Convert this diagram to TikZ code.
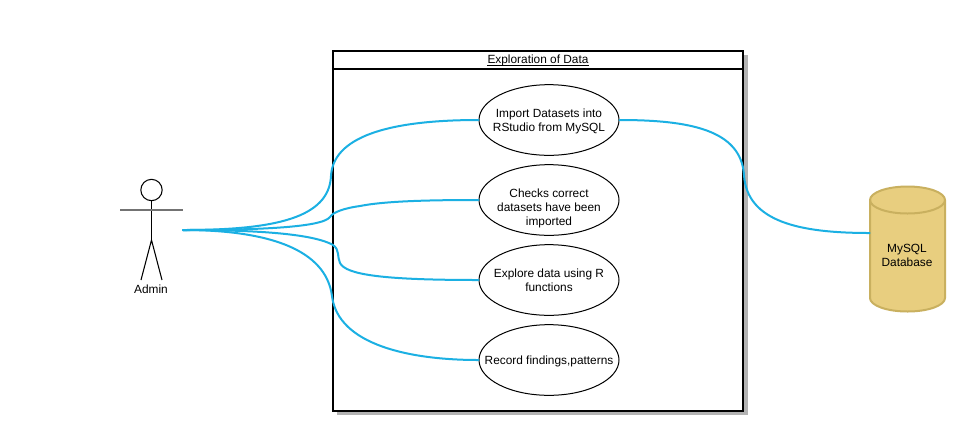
\documentclass[tikz,border=0pt]{standalone}
\usepackage{fontspec}
\setmainfont{Liberation Sans}
\usetikzlibrary{shapes.geometric,calc}
\definecolor{edgeblue}{HTML}{1BB0E3}
\definecolor{dbfill}{HTML}{E8CE7F}
\definecolor{dbline}{HTML}{C9B05F}
\definecolor{shadowgray}{HTML}{B3B3B3}
\newcommand{\ctext}[2]{\makebox[0pt][c]{\raisebox{#1}[0pt][0pt]{\begin{tabular}{@{}c@{}}#2\end{tabular}}}}
\tikzset{
  px/.style={x=0.75pt,y=-0.75pt},
  txt/.style={font=\fontsize{8.9pt}{10.5pt}\selectfont,align=center},
  usecase/.style={ellipse,draw=black,fill=white,line width=0.75pt,minimum width=105pt,minimum height=53pt,inner sep=0pt,font=\fontsize{8.9pt}{10.5pt}\selectfont},
  lane/.style={draw=black,line width=1.6pt,fill=white},
  flow/.style={draw=edgeblue,line width=1.5pt,line cap=round},
  stick/.style={draw=black,line width=0.8pt},
  dbshape/.style={draw=dbline,fill=dbfill,line width=1.5pt},
  dbase/.style={minimum width=56.25pt,minimum height=93pt,inner sep=0pt,txt}
}
\begin{document}
\begin{tikzpicture}[px]
\useasboundingbox[fill=white] (0,0) rectangle (965,430);
% shadow
\fill[shadowgray] (337,55) rectangle (748,415);
\draw[shadowgray,line width=0.6pt] (743,73) -- (748,73);
% swimlane
\node[lane,minimum width=307.5pt,minimum height=270pt,inner sep=0pt] (lane) at (538,231) {};
\draw[black,line width=1.6pt] (lane.north west |- 0,69) -- (lane.north east |- 0,69);
\node[txt,inner sep=0pt] (title) at (538,60) {Exploration of Data};
\draw[black,line width=0.5pt] ($(title.west)+(0,5.5)$) -- ($(title.east)+(0,5.5)$);
% use cases
\node[usecase] (u1) at (549,120) {\ctext{-3.75pt}{Import Datasets into\\RStudio from MySQL}};
\node[usecase] (u2) at (549,200) {\ctext{-9pt}{Checks correct\\datasets have been\\imported}};
\node[usecase] (u3) at (549,280) {\ctext{-3.75pt}{Explore data using R\\functions}};
\node[usecase] (u4) at (549,360) {\ctext{-3.75pt}{Record findings,patterns}};
% database
\draw[dbshape] (870,200) arc[start angle=180,end angle=360,x radius=37.5,y radius=13.5]
  -- (945,298) arc[start angle=0,end angle=180,x radius=37.5,y radius=13.5] -- cycle;
\draw[dbshape,fill=none] (870,200) arc[start angle=180,end angle=0,x radius=37.5,y radius=13.5];
\node[dbase] (db) at (907.5,249) {};
\node[txt] (dblabel) at (907,255.5) {MySQL\\ Database};
% actor
\node[circle,draw=black,line width=0.8pt,minimum size=16pt,inner sep=0pt] (head) at (151.5,190) {};
\coordinate (hip) at (151.5,240);
\coordinate (hand) at (183,230);
\draw[stick] (head.south) -- (hip);
\draw[draw=black!55,line width=1pt] (120,210) -- (183,210);
\draw[stick] (141,280) -- (hip) -- (162,280);
\node[txt] (admin) at (151,289) {Admin};
% connectors
\draw[flow] (hand) .. controls (275,230) and (329,218) .. (331,176) .. controls (333,138) and (385,120) .. (u1.west);
\draw[flow] (hand) .. controls (250,230) and (322,228) .. (330,217) .. controls (333,212) and (345,208) .. (360,206) .. controls (385,201) and (430,200) .. (u2.west);
\draw[flow] (hand) .. controls (240,230) and (310,232) .. (333,245) .. controls (340,250) and (337,257) .. (340,263) .. controls (346,275) and (385,280) .. (u3.west);
\draw[flow] (hand) .. controls (270,230) and (326,250) .. (332,296) .. controls (338,345) and (410,360) .. (u4.west);
\draw[flow] (u1.east) .. controls (690,120) and (741,130) .. (744,175) .. controls (747,222) and (800,233) .. (db.west |- 0,233);
\end{tikzpicture}
\end{document}
